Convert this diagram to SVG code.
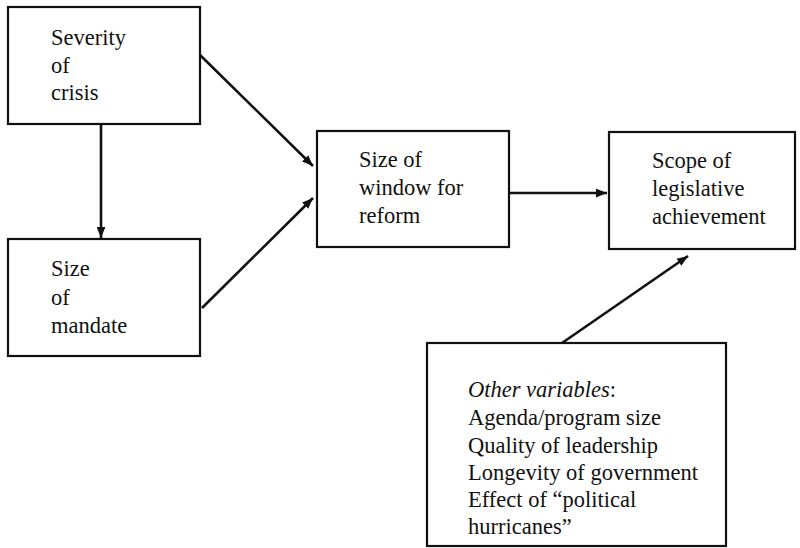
<svg xmlns="http://www.w3.org/2000/svg" width="800" height="548" viewBox="0 0 800 548">
<style>
.box{fill:#fff;stroke:#111;stroke-width:2.2}
text{font-family:"Liberation Serif","Times New Roman",serif;font-size:22.5px;fill:#111}
.edge{stroke:#111;stroke-width:2.6;fill:none;marker-end:url(#ah)}
</style>
<defs>
<marker id="ah" viewBox="0 0 10 8" refX="10" refY="4" markerUnits="userSpaceOnUse" markerWidth="11" markerHeight="9" orient="auto">
<path d="M0,0 L10,4 L0,8 Z" fill="#111"/>
</marker>
</defs>
<rect width="800" height="548" fill="#fff"/>
<g id="connectors">
<line class="edge" x1="200" y1="55" x2="313" y2="166"/>
<line class="edge" x1="202" y1="308" x2="313" y2="198"/>
<line class="edge" x1="101" y1="124" x2="101" y2="238"/>
<line class="edge" x1="509" y1="193" x2="607" y2="193"/>
<line class="edge" x1="562" y1="343" x2="688" y2="256"/>
</g>
<g id="severity" font-family="Liberation Serif, serif">
<rect class="box" x="8" y="7" width="192" height="117"/>
<text x="51" y="45">Severity</text>
<text x="51" y="72.5">of</text>
<text x="51" y="100">crisis</text>
</g>
<g id="mandate" font-family="Liberation Serif, serif">
<rect class="box" x="8" y="239" width="192" height="117"/>
<text x="51" y="276">Size</text>
<text x="51" y="305">of</text>
<text x="51" y="333">mandate</text>
</g>
<g id="window" font-family="Liberation Serif, serif">
<rect class="box" x="317" y="131" width="192" height="116"/>
<text x="359" y="167">Size of</text>
<text x="359" y="195">window for</text>
<text x="359" y="223">reform</text>
</g>
<g id="scope" font-family="Liberation Serif, serif">
<rect class="box" x="609" y="132" width="186" height="117"/>
<text x="652" y="168">Scope of</text>
<text x="652" y="196">legislative</text>
<text x="652" y="224">achievement</text>
</g>
<g id="other" font-family="Liberation Serif, serif">
<rect class="box" x="427" y="343" width="299" height="203"/>
<text x="468" y="397"><tspan font-style="italic">Other variables</tspan>:</text>
<text x="468" y="425">Agenda/program size</text>
<text x="468" y="452.5">Quality of leadership</text>
<text x="468" y="479.5">Longevity of government</text>
<text x="468" y="506.5">Effect of “political</text>
<text x="468" y="533.5">hurricanes”</text>
</g>
</svg>
